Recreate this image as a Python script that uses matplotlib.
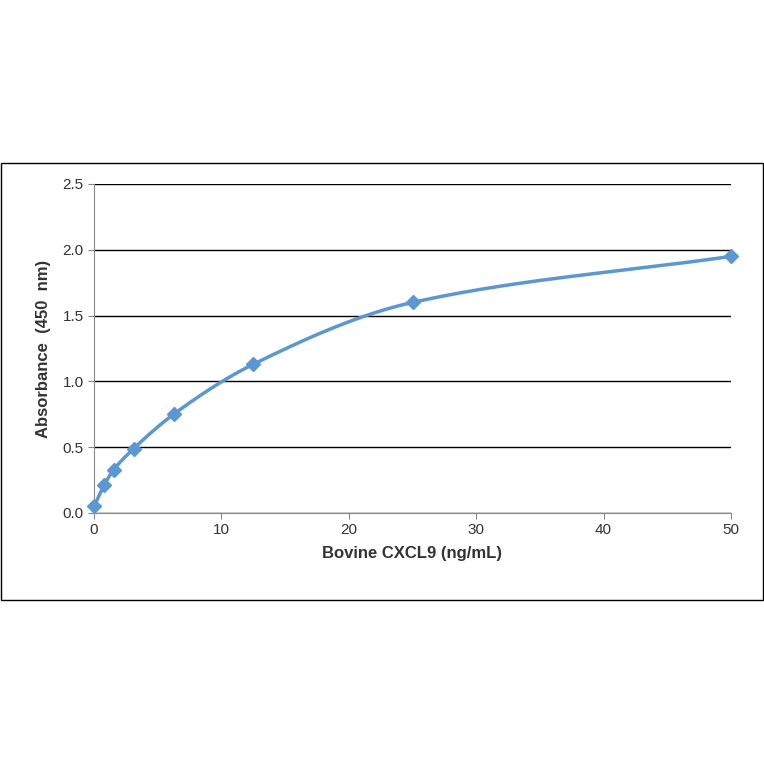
import numpy as np
import matplotlib
matplotlib.use("Agg")
import matplotlib.pyplot as plt
from matplotlib.patches import Rectangle

conc = [0, 0.78, 1.56, 3.125, 6.25, 12.5, 25, 50]
absorb = [0.05, 0.21, 0.33, 0.49, 0.75, 1.13, 1.60, 1.95]
xticks = [0, 10, 20, 30, 40, 50]
yticks = [0.0, 0.5, 1.0, 1.5, 2.0, 2.5]
color = "#5B97D0"

def pchip(x, y, xs):
    x = np.asarray(x, float); y = np.asarray(y, float)
    h = np.diff(x); d = np.diff(y) / h
    m = np.zeros_like(y)
    for k in range(1, len(x) - 1):
        if d[k-1] * d[k] > 0:
            w1 = 2*h[k] + h[k-1]; w2 = h[k] + 2*h[k-1]
            m[k] = (w1 + w2) / (w1/d[k-1] + w2/d[k])
    m[0] = d[0]; m[-1] = d[-1]
    out = []
    for xv in xs:
        k = min(np.searchsorted(x, xv, side='right') - 1, len(x) - 2)
        t = (xv - x[k]) / h[k]
        h00 = 2*t**3 - 3*t**2 + 1; h10 = t**3 - 2*t**2 + t
        h01 = -2*t**3 + 3*t**2; h11 = t**3 - t**2
        out.append(h00*y[k] + h10*h[k]*m[k] + h01*y[k+1] + h11*h[k]*m[k+1])
    return np.array(out)

plt.rcParams['font.family'] = ['Liberation Sans', 'DejaVu Sans']
fig = plt.figure(figsize=(7.64, 7.64), dpi=100)
fig.patches.append(Rectangle((1/764, 164/764), 762/764, 437/764, transform=fig.transFigure,
                             fill=False, edgecolor='black', linewidth=1))
ax = fig.add_axes([94/764, 251/764, 637/764, 329/764])
xs = np.linspace(0, 50, 600)
ax.plot(xs, pchip(conc, absorb, xs), color=color, lw=2.5, zorder=3, clip_on=False)
ax.plot(conc, absorb, 'D', color=color, ms=7, zorder=4, clip_on=False)
ax.set_xlim(0, 50); ax.set_ylim(0, 2.5)
ax.set_xticks(xticks); ax.set_yticks(yticks)
ax.set_yticklabels([f"{v:.1f}" for v in yticks])
ax.grid(axis='y', color='black', lw=1)
ax.set_axisbelow(True)
for s in ['top', 'right']:
    ax.spines[s].set_visible(False)
ax.spines['left'].set_color('#888888')
ax.spines['bottom'].set_color('#888888')
ax.tick_params(labelsize=11, color='#888888', length=4, labelcolor='#333333')
ax.set_xlabel('Bovine CXCL9 (ng/mL)', fontsize=12, fontweight='bold', labelpad=6, color='#333333')
ax.set_ylabel('Absorbance  (450  nm)', fontsize=12, fontweight='bold', labelpad=8, color='#333333')
fig.savefig('out.png', dpi=100)
